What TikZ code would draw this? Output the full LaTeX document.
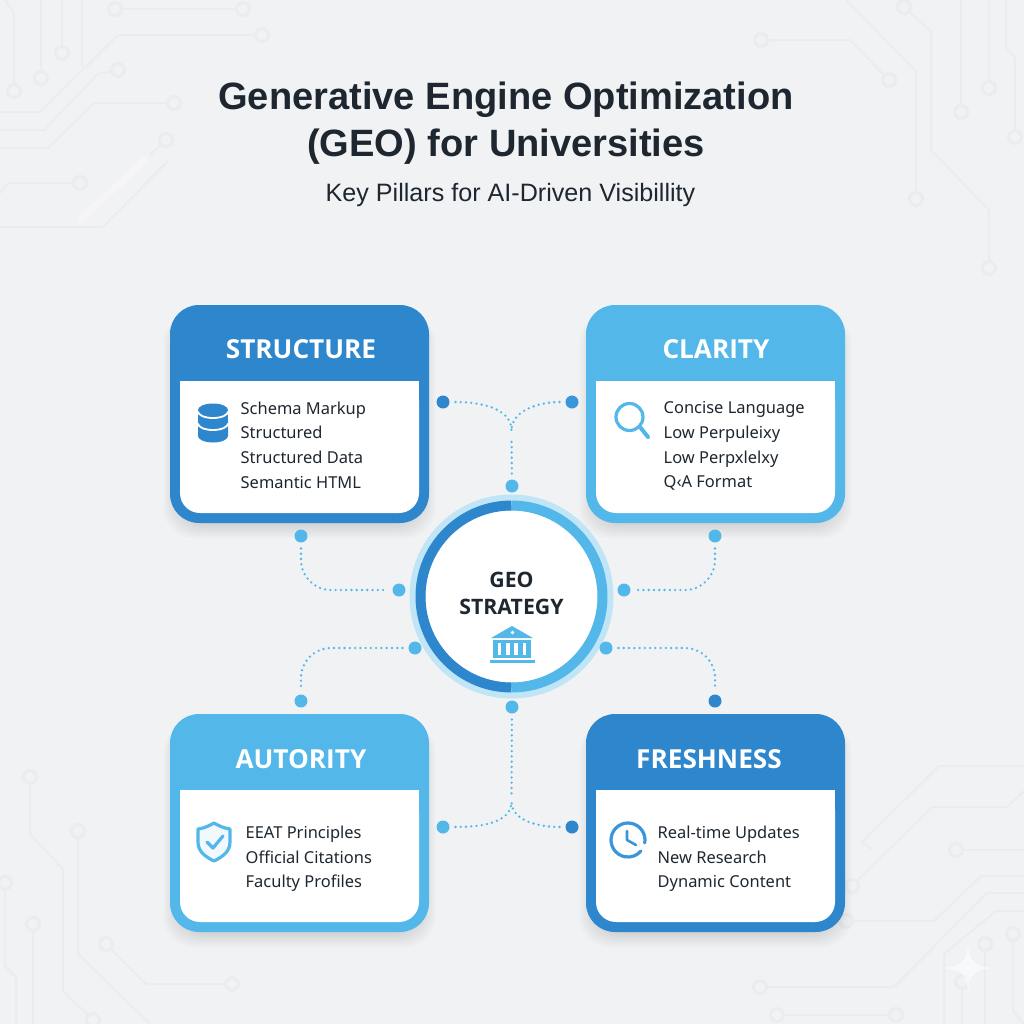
\documentclass[tikz,border=0pt]{standalone}
\usepackage{fontspec}
\setmainfont{Noto Sans}
\newfontfamily\titlefont{Liberation Sans}
\newfontfamily\headfont{Open Sans}
\usepackage{xcolor}
\usepackage{tikz}
\usetikzlibrary{positioning, calc}
\definecolor{deepblue}{RGB}{46, 134, 204}
\definecolor{midblue}{RGB}{58, 150, 218}
\definecolor{skyblue}{RGB}{83, 184, 233}
\definecolor{paleblue}{RGB}{192, 229, 246}
\definecolor{inkdark}{RGB}{30, 39, 48}
\definecolor{pagegray}{RGB}{241, 242, 244}
\definecolor{tracegray}{RGB}{235, 236, 238}

\begin{document}
\begin{tikzpicture}[
    pillarnode/.style={rounded corners=0.29cm, inner sep=0pt, outer sep=0pt,
                       minimum width=2.59cm, minimum height=2.18cm},
    panelnode/.style={fill=white, rounded corners=0.2cm, inner sep=0pt, outer sep=0pt,
                      minimum width=2.39cm, minimum height=1.32cm},
    pillartitle/.style={text=white, inner sep=0pt,
                        font=\fontsize{7.45}{9}\selectfont\headfont\bfseries},
    pillartext/.style={text=inkdark, inner sep=0pt, anchor=west, align=left,
                       font=\fontsize{4.68}{7.03}\selectfont},
    hubnode/.style={circle, fill=white, inner sep=0pt, outer sep=0pt,
                    minimum size=1.72cm},
    hubtext/.style={text=inkdark, inner sep=0pt, align=center,
                    font=\fontsize{6.05}{7.7}\selectfont\headfont\bfseries},
    lightdot/.style={circle, fill=skyblue, minimum size=0.13cm, inner sep=0pt},
    darkdot/.style={circle, fill=deepblue, minimum size=0.13cm, inner sep=0pt},
    link/.style={skyblue, line width=0.026cm, line cap=round,
                 dash pattern=on 0pt off 1.5pt, shorten <=1.5pt, shorten >=1pt},
    linkturn/.style={link, rounded corners=0.3cm},
    circuit/.style={tracegray, line width=0.02cm},
    solder/.style={tracegray, line width=0.03cm, fill=pagegray},
    iconline/.style={line width=0.032cm, line cap=round, line join=round},
]
    \fill[pagegray] (0,0) rectangle (10.24,-10.24);
    \useasboundingbox (0,0) rectangle (10.24,-10.24);

    \draw[circuit] (1.15,-0.09) -- (2.43,-0.09);
    \draw[circuit] (0,-1.12) -- (0.4,-1.12) -- (1.18,-0.35) -- (2.62,-0.35);
    \draw[circuit] (0,-1.3) -- (0.44,-1.3) -- (0.98,-0.74) -- (1.18,-0.7);
    \draw[circuit] (0,-1.48) -- (0.48,-1.48) -- (0.94,-1.03) -- (1.74,-1.03);
    \draw[circuit] (0.82,0) -- (0.82,-0.67);
    \draw[circuit] (0.62,0) -- (0.62,-0.53);
    \draw[circuit] (0.41,0) -- (0.41,-0.78);
    \draw[circuit] (0.05,0) -- (0.14,-0.13) -- (0.14,-0.91);
    \draw[circuit] (0,-1.93) -- (0.09,-1.83) -- (0.8,-1.83);
    \draw[circuit] (0,-2.27) -- (1.03,-2.27) -- (1.68,-1.61);
    \draw[circuit] (1.66,-1.4) -- (1.5,-1.55);
    \draw[white, opacity=0.3, line width=0.07cm, line cap=round] (1.45,-1.6) -- (0.8,-2.2);

    \draw[circuit] (7.61,-0.4) -- (8.5,-0.4) -- (8.89,-0.8);
    \draw[circuit] (8.46,0) -- (9.16,-0.71) -- (9.16,-1.99);
    \draw[circuit] (9.04,-0.07) -- (9.31,-0.31) -- (9.31,-1.5) -- (9.89,-2.1) -- (9.89,-2.68);
    \draw[circuit] (9.61,0) -- (9.61,-1.12);
    \draw[circuit] (9.89,0) -- (9.89,-0.88);
    \draw[circuit] (10.06,0) -- (10.06,-0.49) -- (10.15,-0.57) -- (10.15,-1.37);

    \draw[circuit] (0.3,-7.77) -- (0.3,-8.34) -- (0.63,-8.69) -- (0.63,-9.91) -- (0.93,-10.2);
    \draw[circuit] (0.78,-8.31) -- (0.78,-9.54) -- (1.5,-10.24);
    \draw[circuit] (0.05,-8.83) -- (0.05,-9.66) -- (0.16,-9.77) -- (0.16,-10.24);
    \draw[circuit] (0.33,-9.24) -- (0.33,-10.24);
    \draw[circuit] (1.06,-9.44) -- (1.46,-9.84) -- (2.32,-9.84);

    \draw[circuit] (10.24,-7.66) -- (9.39,-7.66) -- (8.62,-8.42) -- (8.72,-8.49);
    \draw[circuit] (10.24,-7.91) -- (10.07,-8.07) -- (9.32,-8.07) -- (8.52,-8.86);
    \draw[circuit] (9.56,-8.5) -- (10.24,-8.5);
    \draw[circuit] (10.24,-8.76) -- (9.81,-8.76) -- (9.34,-9.21) -- (8.46,-9.21);
    \draw[circuit] (10.24,-8.93) -- (9.87,-8.93) -- (8.94,-9.87) -- (7.6,-9.87);
    \draw[circuit] (10.24,-9.11) -- (9.96,-9.11) -- (9.44,-9.54) -- (9.44,-10.24);
    \draw[circuit] (7.77,-10.15) -- (8.96,-10.15);
    \draw[circuit] (9.85,-9.44) -- (9.85,-10.24);
    \draw[circuit] (10.13,-9.34) -- (10.13,-10.11) -- (10.24,-10.24);
    \draw[circuit] (9.62,-9.82) -- (9.62,-10.24);

    \foreach \px/\py in {1.15/0.09, 2.43/0.09, 2.62/0.35, 1.18/0.7, 1.74/1.03, 0.62/0.53,
                         0.41/0.78, 0.14/0.91, 0.8/1.83, 1.66/1.4, 7.61/0.4, 8.89/0.8,
                         9.16/1.99, 9.04/0.07, 9.89/2.68, 9.61/1.12, 9.89/0.88, 10.15/1.37,
                         0.3/7.77, 0.93/10.2, 0.78/8.31, 0.05/8.83, 0.33/9.24, 1.06/9.44,
                         2.32/9.84, 8.52/8.86, 9.56/8.5, 8.46/9.21, 7.6/9.87, 7.77/10.15,
                         8.96/10.15, 9.85/9.44, 10.13/9.34, 9.62/9.82}
        \draw[solder] (\px,-\py) circle (0.065);

    \fill[white, opacity=0.55] (9.68,-9.44) .. controls (9.7,-9.62) and (9.74,-9.66) .. (9.92,-9.68)
        .. controls (9.74,-9.7) and (9.7,-9.74) .. (9.68,-9.92)
        .. controls (9.66,-9.74) and (9.62,-9.7) .. (9.44,-9.68)
        .. controls (9.62,-9.66) and (9.66,-9.62) .. (9.68,-9.44) -- cycle;

    \node[text=inkdark, inner sep=0pt, align=center,
          font=\fontsize{10.83}{13.4}\selectfont\titlefont\bfseries] (title) at (5.06,-1.235)
        {Generative Engine Optimization\\(GEO) for Universities};
    \node[text=inkdark, inner sep=0pt, font=\fontsize{7.15}{8}\selectfont\titlefont] (subtitle) at (5.105,-1.95)
        {Key Pillars for AI-Driven Visibillity};

    \foreach \cardx/\cardy in {2.995/4.14, 7.155/4.14, 2.995/8.23, 7.155/8.23}
        \foreach \grow in {-0.04,-0.02,0,0.02,0.04,0.06,0.08,0.1,0.12,0.14}
            \fill[black, opacity=0.016, rounded corners=0.3cm]
                (\cardx-1.22-\grow,-\cardy+1.0) rectangle (\cardx+1.22+\grow,-\cardy-1.1-\grow);

    \node[circle, fill=paleblue, minimum size=2.04cm, inner sep=0pt] (hubglow) at (5.115,-5.965) {};
    \node[hubnode] (hub) at (hubglow) {};
    \draw[deepblue, line width=0.1cm] (hub.center) ++(90:0.91) arc (90:270:0.91);
    \draw[skyblue, line width=0.1cm] (hub.center) ++(-90:0.91) arc (-90:90:0.91);
    \node[hubtext] (hublabel) at (5.115,-5.935) {GEO\\STRATEGY};

    \fill[skyblue] (5.12,-6.26) -- (5.33,-6.38) -- (4.91,-6.38) -- cycle;
    \fill[white] (5.125,-6.325) circle (0.018);
    \fill[skyblue] (4.93,-6.4) rectangle (5.31,-6.425);
    \foreach \barx in {4.955,5.035,5.12,5.205,5.285}
        \fill[skyblue] (\barx-0.022,-6.425) rectangle (\barx+0.022,-6.55);
    \fill[skyblue] (4.93,-6.55) rectangle (5.31,-6.575);
    \fill[skyblue] (4.9,-6.6) rectangle (5.35,-6.63);

    \node[darkdot] (dota) at (4.43,-4.02) {};
    \node[circle, fill=midblue, minimum size=0.13cm, inner sep=0pt] (dotb) at (5.72,-4.02) {};
    \node[lightdot] (dotc) at (5.12,-4.86) {};
    \coordinate (forka) at (5.115,-4.34);
    \node[lightdot] (dotd) at (3.01,-5.36) {};
    \node[lightdot] (dote) at (3.99,-5.9) {};
    \node[lightdot] (dotf) at (7.15,-5.36) {};
    \node[lightdot] (dotg) at (6.24,-5.9) {};
    \node[lightdot] (doth) at (4.15,-6.48) {};
    \node[lightdot] (doti) at (3.01,-7.01) {};
    \node[lightdot] (dotj) at (6.06,-6.48) {};
    \node[darkdot] (dotk) at (7.15,-7.01) {};
    \node[lightdot] (dotl) at (5.12,-7.07) {};
    \coordinate (forkb) at (5.115,-7.98);
    \node[lightdot] (dotm) at (4.43,-8.27) {};
    \node[darkdot] (dotn) at (5.72,-8.27) {};

    \draw[link] (dota) to[out=0, in=90] (forka);
    \draw[link] (dotb) to[out=180, in=90] (forka);
    \draw[link] (dotc) -- (forka);
    \draw[linkturn] (dotd) |- (dote);
    \draw[linkturn] (dotf) |- (dotg);
    \draw[linkturn] (doth) -| (doti);
    \draw[linkturn] (dotj) -| (dotk);
    \draw[link] (dotl) -- (forkb);
    \draw[link] (dotm) to[out=0, in=-90] (forkb);
    \draw[link] (dotn) to[out=180, in=-90] (forkb);

    \node[pillarnode, fill=deepblue] (structure) at (2.995,-4.14) {};
    \node[panelnode, above=0.1cm of structure.south] (structurepanel) {};
    \fill[white] (structurepanel.north west) rectangle (structurepanel.east);
    \node[pillartitle] (structuretitle) at (3.01,-3.49) {STRUCTURE};
    \node[pillartext] (structuretext) at (2.4,-4.45)
        {Schema Markup\\Structured\\Structured Data\\Semantic HTML};

    \node[pillarnode, fill=skyblue] (clarity) at (7.155,-4.14) {};
    \node[panelnode, above=0.1cm of clarity.south] (claritypanel) {};
    \fill[white] (claritypanel.north west) rectangle (claritypanel.east);
    \node[pillartitle] (claritytitle) at (7.16,-3.49) {CLARITY};
    \node[pillartext] (claritytext) at (6.63,-4.46)
        {Concise Language\\Low Perpuleixy\\Low Perpxlelxy\\Q‹A Format};

    \node[pillarnode, fill=skyblue] (authority) at (2.995,-8.23) {};
    \node[panelnode, above=0.1cm of authority.south] (authoritypanel) {};
    \fill[white] (authoritypanel.north west) rectangle (authoritypanel.east);
    \node[pillartitle] (authoritytitle) at (3.01,-7.59) {AUTORITY};
    \node[pillartext] (authoritytext) at (2.45,-8.59)
        {EEAT Principles\\Official Citations\\Faculty Profiles};

    \node[pillarnode, fill=deepblue] (freshness) at (7.155,-8.23) {};
    \node[panelnode, above=0.1cm of freshness.south] (freshnesspanel) {};
    \fill[white] (freshnesspanel.north west) rectangle (freshnesspanel.east);
    \node[pillartitle] (freshnesstitle) at (7.09,-7.59) {FRESHNESS};
    \node[pillartext] (freshnesstext) at (6.57,-8.59)
        {Real-time Updates\\New Research\\Dynamic Content};

    \fill[deepblue] (1.98,-4.1) arc (180:0:0.15 and 0.065) -- (2.28,-4.36)
        arc (0:-180:0.15 and 0.065) -- cycle;
    \draw[white, line width=0.018cm] (1.98,-4.115) arc (180:360:0.15 and 0.065);
    \draw[white, line width=0.018cm] (1.98,-4.235) arc (180:360:0.15 and 0.065);

    \draw[skyblue, iconline] (6.295,-4.17) circle (0.135);
    \draw[skyblue, iconline, line width=0.04cm] (6.4,-4.27) -- (6.48,-4.37);

    \draw[skyblue, iconline, fill=skyblue!8] (2.14,-8.23) .. controls (2.05,-8.28) and (2.03,-8.28) .. (1.98,-8.29)
        -- (1.98,-8.42) .. controls (1.98,-8.52) and (2.06,-8.57) .. (2.14,-8.61)
        .. controls (2.22,-8.57) and (2.3,-8.52) .. (2.3,-8.42)
        -- (2.3,-8.29) .. controls (2.25,-8.28) and (2.23,-8.28) .. (2.14,-8.23) -- cycle;
    \draw[skyblue, iconline] (2.07,-8.42) -- (2.13,-8.48) -- (2.23,-8.36);

    \draw[midblue, iconline] (6.28,-8.4) ++(-10:0.17) arc (-10:320:0.17);
    \draw[midblue, iconline, line width=0.026cm] (6.27,-8.31) -- (6.27,-8.4) -- (6.36,-8.45);
\end{tikzpicture}
\end{document}
